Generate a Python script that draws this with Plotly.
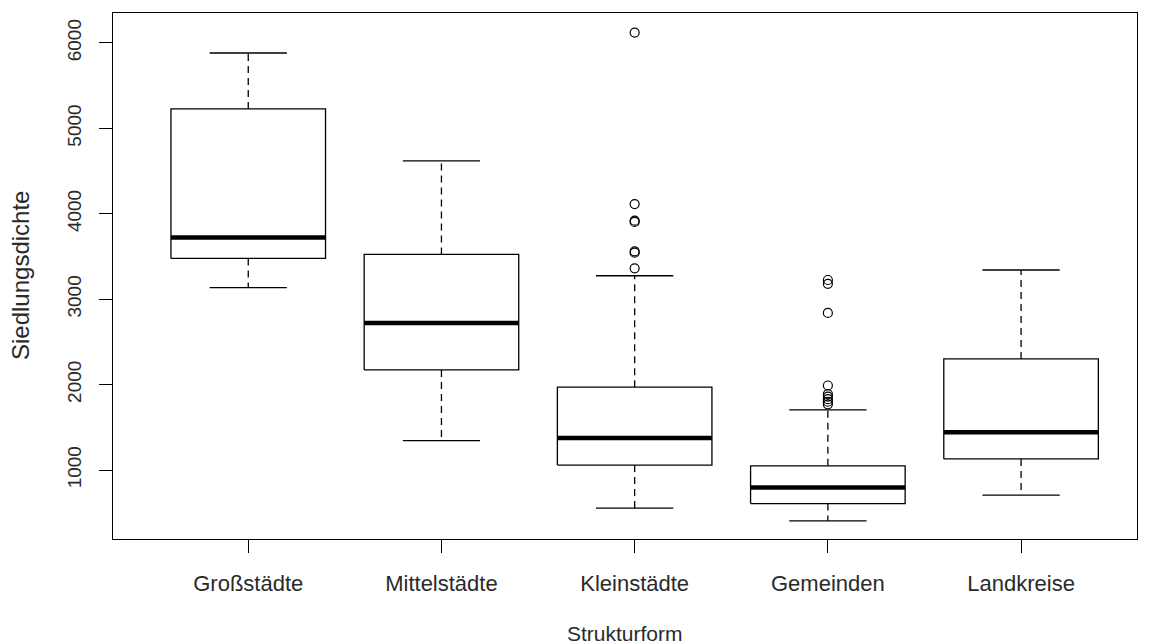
import plotly.graph_objects as go

categories = ["Großstädte", "Mittelstädte", "Kleinstädte", "Gemeinden", "Landkreise"]
lower_whisker = [3135, 1345, 555, 406, 706]
q1 = [3478, 2172, 1058, 608, 1131]
median = [3724, 2722, 1374, 795, 1443]
q3 = [5228, 3525, 1970, 1050, 2301]
upper_whisker = [5883, 4620, 3275, 1704, 3342]
outliers = [
    [],
    [],
    [6122, 4114, 3920, 3905, 3560, 3545, 3362],
    [3225, 3180, 2840, 1990, 1890, 1860, 1830, 1800, 1770],
    [],
]
y_ticks = [1000, 2000, 3000, 4000, 5000, 6000]

BOX_HALF = 0.4
CAP_HALF = 0.2
FONT = "Liberation Sans Narrow, Liberation Sans, Arial, sans-serif"
TXT = "#2a2a2a"

box_x, box_y = [], []
med_x, med_y = [], []
whisk_x, whisk_y = [], []
cap_x, cap_y = [], []
out_x, out_y = [], []
for i in range(len(categories)):
    c = i + 1
    box_x += [c - BOX_HALF, c + BOX_HALF, c + BOX_HALF, c - BOX_HALF, c - BOX_HALF, None]
    box_y += [q1[i], q1[i], q3[i], q3[i], q1[i], None]
    med_x += [c - BOX_HALF, c + BOX_HALF, None]
    med_y += [median[i], median[i], None]
    whisk_x += [c, c, None, c, c, None]
    whisk_y += [q3[i], upper_whisker[i], None, q1[i], lower_whisker[i], None]
    cap_x += [c - CAP_HALF, c + CAP_HALF, None, c - CAP_HALF, c + CAP_HALF, None]
    cap_y += [upper_whisker[i], upper_whisker[i], None, lower_whisker[i], lower_whisker[i], None]
    for v in outliers[i]:
        out_x.append(c)
        out_y.append(v)

fig = go.Figure()
fig.add_trace(go.Scatter(x=whisk_x, y=whisk_y, mode="lines",
                         line=dict(color="black", width=1.3, dash="7px,5px"), hoverinfo="skip"))
fig.add_trace(go.Scatter(x=cap_x, y=cap_y, mode="lines",
                         line=dict(color="black", width=1.3), hoverinfo="skip"))
fig.add_trace(go.Scatter(x=box_x, y=box_y, mode="lines", fill="toself", fillcolor="white",
                         line=dict(color="black", width=1.3), hoverinfo="skip"))
fig.add_trace(go.Scatter(x=med_x, y=med_y, mode="lines",
                         line=dict(color="black", width=4.5), hoverinfo="skip"))
fig.add_trace(go.Scatter(x=out_x, y=out_y, mode="markers",
                         marker=dict(symbol="circle-open", size=9, color="black",
                                     line=dict(width=1.2, color="black"))))

fig.update_layout(
    width=1149, height=644,
    margin=dict(l=113, r=12, t=13, b=105),
    paper_bgcolor="white", plot_bgcolor="white",
    showlegend=False,
    font=dict(family=FONT, color=TXT),
    xaxis=dict(
        range=[0.3, 5.6],
        tickmode="array", tickvals=list(range(1, len(categories) + 1)), ticktext=categories,
        ticks="outside", ticklen=13, tickwidth=1.2, tickcolor="black",
        showline=True, linecolor="black", linewidth=1.3, mirror=True,
        showgrid=False, zeroline=False,
        tickfont=dict(size=22, family=FONT, color=TXT),
        ticklabelstandoff=11,
    ),
    yaxis=dict(
        range=[193, 6351],
        tickmode="array", tickvals=y_ticks, ticktext=[str(v) for v in y_ticks],
        ticks="outside", ticklen=13, tickwidth=1.2, tickcolor="black",
        showline=True, linecolor="black", linewidth=1.3, mirror=True,
        showgrid=False, zeroline=False,
        tickangle=-90,
        tickfont=dict(size=19, family=FONT, color=TXT),
        ticklabelstandoff=10,
    ),
    annotations=[
        dict(text="Strukturform", xref="paper", yref="paper", x=0.5, y=0,
             yshift=-94, showarrow=False, xanchor="center", yanchor="middle",
             font=dict(size=21, family=FONT, color=TXT)),
        dict(text="Siedlungsdichte", xref="paper", yref="paper", x=0, y=0.5,
             xshift=-93, showarrow=False, xanchor="center", yanchor="middle", textangle=-90,
             font=dict(size=24, family=FONT, color=TXT)),
    ],
)

fig.write_html("out.html")
